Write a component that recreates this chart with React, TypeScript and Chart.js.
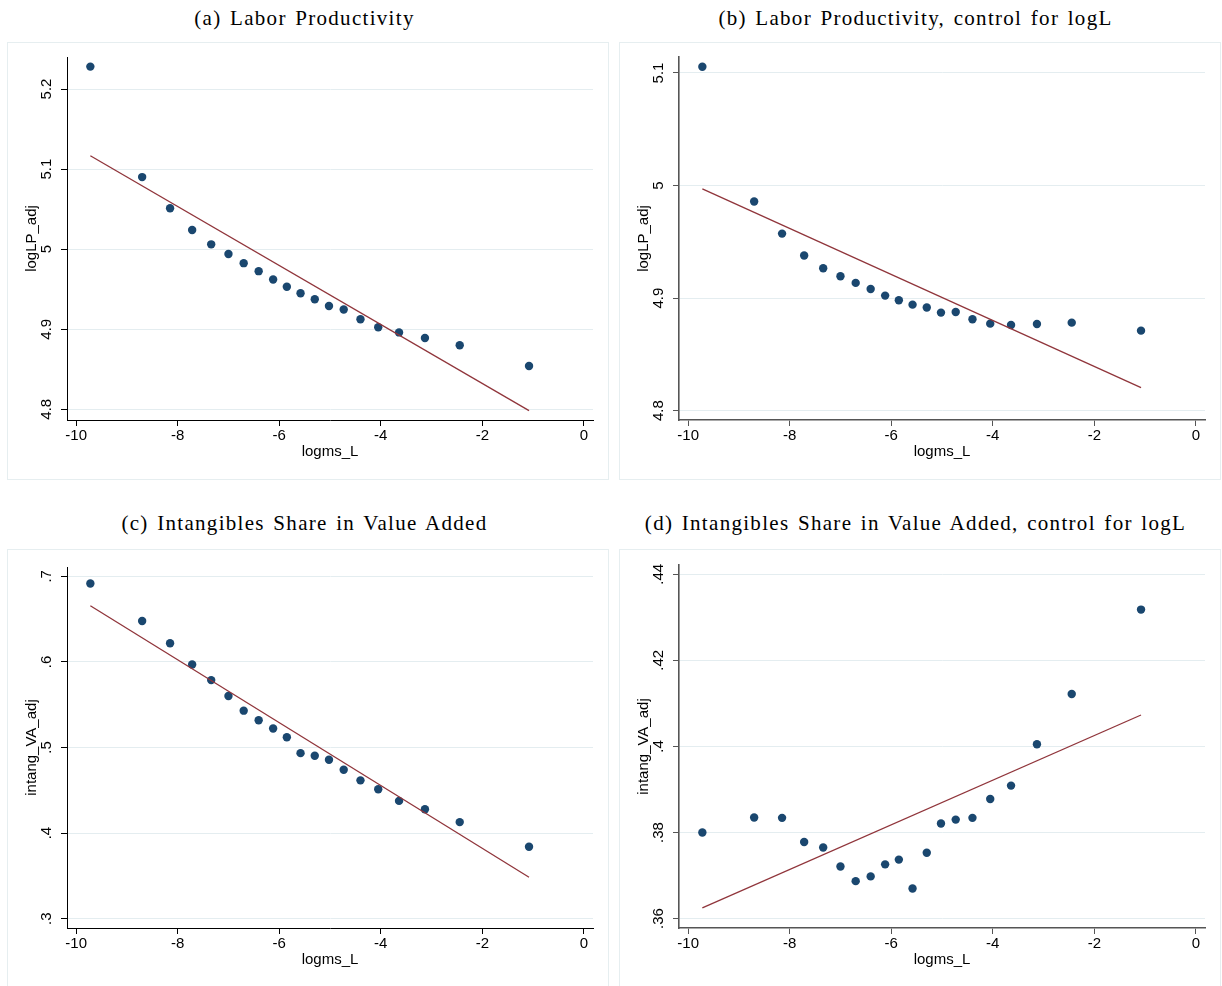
import React, { useEffect, useRef } from "react";
import { Chart, registerables } from "chart.js";

Chart.register(...registerables);

// ---------- data ----------
const logmsL = [
  -9.72, -8.70, -8.15, -7.715, -7.34, -7.00, -6.70, -6.405, -6.12, -5.85,
  -5.58, -5.30, -5.02, -4.73, -4.40, -4.05, -3.64, -3.13, -2.445, -1.08,
];
const xTicks = [-10, -8, -6, -4, -2, 0];
const xTickLabels = ["-10", "-8", "-6", "-4", "-2", "0"];
const xRange = [-10.18, 0.18];

const logLPadj = [
  5.228, 5.090, 5.051, 5.024, 5.006, 4.994, 4.9825, 4.9725, 4.962, 4.953,
  4.945, 4.9375, 4.929, 4.9246, 4.9125, 4.9025, 4.896, 4.889, 4.880, 4.854,
];
const logLPadjFit = [5.1167, 4.7983];
const logLPadjTicks = [4.8, 4.9, 5.0, 5.1, 5.2];
const logLPadjTickLabels = ["4.8", "4.9", "5", "5.1", "5.2"];
const logLPadjRange = [4.7866, 5.24];

const logLPadjCtrl = [
  5.1055, 4.9858, 4.9573, 4.9378, 4.9265, 4.9194, 4.9135, 4.9081, 4.9022, 4.8981,
  4.8942, 4.8916, 4.8871, 4.8877, 4.8812, 4.8773, 4.8761, 4.877, 4.8782, 4.8711,
];
const logLPadjCtrlFit = [4.997, 4.8204];
const logLPadjCtrlTicks = [4.8, 4.9, 5.0, 5.1];
const logLPadjCtrlTickLabels = ["4.8", "4.9", "5", "5.1"];
const logLPadjCtrlRange = [4.7917, 5.1142];

const intangVA = [
  0.6915, 0.6477, 0.6217, 0.5969, 0.5787, 0.5601, 0.543, 0.5318, 0.5221, 0.512,
  0.4934, 0.4903, 0.4857, 0.474, 0.4616, 0.4512, 0.4376, 0.4279, 0.4128, 0.3841,
];
const intangVAFit = [0.6655, 0.3484];
const intangVATicks = [0.3, 0.4, 0.5, 0.6, 0.7];
const intangVATickLabels = [".3", ".4", ".5", ".6", ".7"];
const intangVARange = [0.2891, 0.7108];

const intangVACtrl = [
  0.38, 0.3835, 0.3834, 0.3778, 0.3765, 0.3721, 0.3687, 0.3698, 0.3726, 0.3737,
  0.367, 0.3753, 0.3821, 0.383, 0.3834, 0.3878, 0.3909, 0.4005, 0.4122, 0.4318,
];
const intangVACtrlFit = [0.3625, 0.4073];
const intangVACtrlTicks = [0.36, 0.38, 0.4, 0.42, 0.44];
const intangVACtrlTickLabels = [".36", ".38", ".4", ".42", ".44"];
const intangVACtrlRange = [0.35781, 0.44216];

// ---------- style ----------
const SANS = '"Liberation Sans", Arial, sans-serif';
const SERIF = '"Liberation Serif", "Times New Roman", serif';
const DOT = "#1a476f";
const FIT = "#90353b";
const GRID = "#e4edf0";
const FRAME = "#e6eef0";

type PanelCfg = {
  title: string;
  col: number;
  row: number;
  yTitle: string;
  ys: number[];
  fit: number[];
  yRange: number[];
  yTicks: number[];
  yTickLabels: string[];
  axisColor: string;
  axisWidth: number;
};

const panels: PanelCfg[] = [
  {
    title: "(a) Labor Productivity",
    col: 0, row: 0, yTitle: "logLP_adj",
    ys: logLPadj, fit: logLPadjFit, yRange: logLPadjRange,
    yTicks: logLPadjTicks, yTickLabels: logLPadjTickLabels,
    axisColor: "#000", axisWidth: 1,
  },
  {
    title: "(b) Labor Productivity, control for logL",
    col: 1, row: 0, yTitle: "logLP_adj",
    ys: logLPadjCtrl, fit: logLPadjCtrlFit, yRange: logLPadjCtrlRange,
    yTicks: logLPadjCtrlTicks, yTickLabels: logLPadjCtrlTickLabels,
    axisColor: "#555", axisWidth: 1.6,
  },
  {
    title: "(c) Intangibles Share in Value Added",
    col: 0, row: 1, yTitle: "intang_VA_adj",
    ys: intangVA, fit: intangVAFit, yRange: intangVARange,
    yTicks: intangVATicks, yTickLabels: intangVATickLabels,
    axisColor: "#000", axisWidth: 1,
  },
  {
    title: "(d) Intangibles Share in Value Added, control for logL",
    col: 1, row: 1, yTitle: "intang_VA_adj",
    ys: intangVACtrl, fit: intangVACtrlFit, yRange: intangVACtrlRange,
    yTicks: intangVACtrlTicks, yTickLabels: intangVACtrlTickLabels,
    axisColor: "#555", axisWidth: 1.6,
  },
];

const BOX_LEFT = [7, 619];
const BOX_TOP = [42, 549];
const TITLE_TOP = [7, 512];
const CANVAS_W = 600;
const CANVAS_H = 436;

function Panel({ cfg }: { cfg: PanelCfg }) {
  const ref = useRef<HTMLCanvasElement | null>(null);

  useEffect(() => {
    const canvas = ref.current;
    if (!canvas) return;
    const meas = document.createElement("canvas").getContext("2d")!;
    meas.font = `15px ${SANS}`;
    const widest = Math.max(...cfg.yTickLabels.map((t) => meas.measureText(t).width));
    const yTickPad = Math.max(0, 14.3 - widest / 2);
    const xScaleH = cfg.row === 0 ? 59 : 58;

    const chart = new Chart(canvas, {
      type: "scatter",
      data: {
        datasets: [
          {
            type: "line",
            data: [
              { x: logmsL[0], y: cfg.fit[0] },
              { x: logmsL[logmsL.length - 1], y: cfg.fit[1] },
            ],
            borderColor: FIT,
            borderWidth: 1.3,
            pointRadius: 0,
            fill: false,
            order: 0,
          } as any,
          {
            type: "scatter",
            data: logmsL.map((x, i) => ({ x, y: cfg.ys[i] })),
            backgroundColor: DOT,
            borderWidth: 0,
            pointRadius: 4.2,
            order: 1,
          } as any,
        ],
      },
      options: {
        animation: false,
        responsive: false,
        events: [],
        layout: { padding: { top: cfg.row === 0 ? 14 : 15, right: 15, left: 0, bottom: 0 } },
        plugins: {
          legend: { display: false },
          tooltip: { enabled: false },
          title: { display: false },
        },
        scales: {
          x: {
            type: "linear",
            position: "bottom",
            min: xRange[0],
            max: xRange[1],
            afterBuildTicks: (s: any) => {
              s.ticks = xTicks.map((v) => ({ value: v }));
            },
            afterFit: (s: any) => {
              s.height = xScaleH;
            },
            ticks: {
              callback: (_v: any, i: number) => xTickLabels[i],
              font: { family: SANS, size: 15 },
              color: "#000",
              padding: 1,
              maxRotation: 0,
              minRotation: 0,
              autoSkip: false,
            },
            grid: {
              drawOnChartArea: false,
              drawTicks: true,
              tickLength: 6,
              tickColor: cfg.axisColor,
              tickWidth: 1,
            },
            border: { display: true, color: cfg.axisColor, width: cfg.axisWidth },
            title: {
              display: true,
              text: "logms_L",
              font: { family: SANS, size: 15 },
              color: "#000",
              padding: { top: 0, bottom: cfg.row === 0 ? 18 : 17 },
            },
          },
          y: {
            type: "linear",
            position: "left",
            min: cfg.yRange[0],
            max: cfg.yRange[1],
            afterBuildTicks: (s: any) => {
              s.ticks = cfg.yTicks.map((v) => ({ value: v }));
            },
            afterFit: (s: any) => {
              s.width = 59;
            },
            ticks: {
              callback: (_v: any, i: number) => cfg.yTickLabels[i],
              font: { family: SANS, size: 15 },
              color: "#000",
              padding: yTickPad,
              minRotation: 90,
              maxRotation: 90,
              crossAlign: "center",
              autoSkip: false,
            },
            grid: {
              display: true,
              drawOnChartArea: true,
              drawTicks: true,
              color: GRID,
              lineWidth: 1,
              tickLength: 6,
              tickColor: cfg.axisColor,
              tickWidth: 1,
            },
            border: { display: true, color: cfg.axisColor, width: cfg.axisWidth },
            title: {
              display: true,
              text: cfg.yTitle,
              font: { family: SANS, size: 15 },
              color: "#000",
              padding: { top: 15, bottom: 0 },
            },
          },
        },
      } as any,
    });
    return () => chart.destroy();
  }, [cfg]);

  const left = BOX_LEFT[cfg.col];
  const top = BOX_TOP[cfg.row];
  return (
    <>
      <div
        style={{
          position: "absolute",
          left: cfg.col * 611,
          top: TITLE_TOP[cfg.row] - 1,
          width: 609,
          textAlign: "center",
          fontFamily: SERIF,
          fontSize: 21,
          lineHeight: "25px",
          letterSpacing: "1.3px",
          wordSpacing: "2px",
          whiteSpace: "nowrap",
          color: "#000",
        }}
      >
        {cfg.title}
      </div>
      <div
        style={{
          position: "absolute",
          left,
          top,
          width: CANVAS_W + 2,
          height: CANVAS_H + 2,
          border: `1px solid ${FRAME}`,
          boxSizing: "border-box",
          background: "#fff",
        }}
      >
        <canvas
          ref={ref}
          width={CANVAS_W}
          height={CANVAS_H}
          style={{ position: "absolute", left: 0, top: 0, width: CANVAS_W, height: CANVAS_H }}
        />
      </div>
    </>
  );
}

export default function App() {
  return (
    <div
      style={{
        position: "fixed",
        left: 0,
        top: 0,
        width: 1222,
        height: 986,
        background: "#fff",
        overflow: "hidden",
      }}
    >
      {panels.map((p) => (
        <Panel key={p.title} cfg={p} />
      ))}
    </div>
  );
}
